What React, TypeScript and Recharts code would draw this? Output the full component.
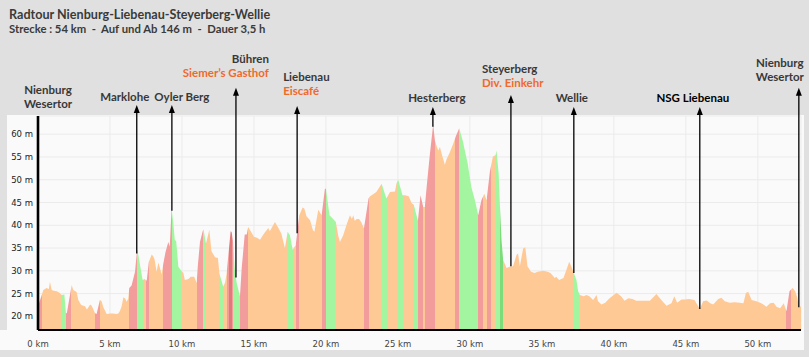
import React from "react";
import { AreaChart, Area, XAxis, YAxis, CartesianGrid, ReferenceLine } from "recharts";

// elevation profile, km along the route -> metres
const KM = [
  0, 0.26, 0.37, 0.6, 0.75, 0.83, 0.95, 1.1, 1.3, 1.5, 1.64, 1.83, 1.94, 2.0, 2.34, 2.45, 2.6, 2.69, 2.8, 3.0,
  3.26, 3.4, 3.5, 3.62, 3.73, 3.96, 4.07, 4.3, 4.42, 4.54, 4.77, 5.0, 5.23, 5.45, 5.58, 5.69, 5.81, 5.93, 6.05, 6.16,
  6.27, 6.34, 6.5, 6.74, 6.85, 6.9, 7.0, 7.1, 7.27, 7.4, 7.55, 7.7, 7.9, 8.0, 8.1, 8.24, 8.36, 8.47, 8.59, 8.7,
  8.85, 9.05, 9.15, 9.28, 9.4, 9.5, 9.6, 9.75, 9.98, 10.1, 10.2, 10.45, 10.6, 10.85, 11.02, 11.1, 11.25, 11.44, 11.5, 11.6,
  11.67, 11.9, 12.05, 12.3, 12.5, 12.6, 12.87, 13.0, 13.1, 13.38, 13.45, 13.55, 13.66, 13.8, 14.03, 14.15, 14.36, 14.5, 14.6, 14.8,
  15.0, 15.25, 15.42, 15.7, 16.0, 16.1, 16.46, 16.7, 16.9, 17.15, 17.34, 17.5, 17.69, 17.9, 18.15, 18.38, 18.5, 18.65, 18.9, 19.1,
  19.2, 19.47, 19.7, 19.93, 20.0, 20.25, 20.5, 20.69, 20.85, 20.97, 21.2, 21.45, 21.67, 21.8, 21.9, 22.0, 22.15, 22.3, 22.45, 22.64,
  22.96, 23.05, 23.5, 23.87, 24.2, 24.45, 24.8, 24.9, 25.02, 25.32, 25.5, 25.75, 25.95, 26.1, 26.39, 26.57, 26.76, 26.87, 27.0, 27.2,
  27.45, 27.57, 27.68, 27.8, 27.92, 28.03, 28.26, 28.38, 28.6, 28.84, 29.03, 29.26, 29.5, 29.85, 30.1, 30.35, 30.58, 30.8, 31.0, 31.16,
  31.39, 31.6, 31.78, 31.85, 32.0, 32.08, 32.2, 32.31, 32.55, 32.83, 33.0, 33.24, 33.35, 33.47, 33.7, 33.85, 34.0, 34.25, 34.5, 34.7,
  35.1, 35.4, 35.6, 35.9, 36.0, 36.2, 36.5, 36.7, 36.9, 37.05, 37.22, 37.4, 37.52, 37.64, 37.9, 38.1, 38.3, 38.56, 38.8, 38.9,
  39.14, 39.4, 39.7, 40.19, 40.5, 40.75, 41.0, 41.3, 41.55, 42.0, 42.5, 42.96, 43.3, 43.66, 44.0, 44.2, 44.4, 44.7, 44.95, 45.2,
  45.6, 45.97, 46.2, 46.45, 46.7, 46.9, 47.25, 47.48, 47.7, 48.05, 48.4, 48.75, 49.0, 49.17, 49.33, 49.57, 49.9, 50.25, 50.6, 50.85,
  51.1, 51.3, 51.55, 51.8, 51.99, 52.2, 52.41, 52.6, 52.75, 52.85, 53.0,
];
const ELEV = [
  22.2, 24.7, 25.8, 26.2, 26.0, 27.6, 25.8, 25.6, 25.5, 25.2, 24.7, 24.8, 20.8, 20.6, 26.9, 25.8, 25.5, 25.3, 23.6, 22.5,
  22.2, 21.5, 22.0, 22.6, 22.3, 20.7, 20.5, 23.6, 23.3, 22.0, 20.5, 20.6, 20.6, 20.5, 20.6, 21.2, 22.2, 24.2, 23.9, 23.2,
  23.9, 26.2, 26.8, 29.8, 33.6, 34.7, 33.0, 31.0, 28.0, 28.2, 27.8, 32.0, 33.6, 33.2, 32.5, 29.8, 31.8, 30.6, 29.2, 31.5,
  34.0, 36.3, 35.3, 43.7, 40.5, 36.8, 36.5, 30.9, 29.9, 29.5, 28.0, 28.2, 28.7, 28.7, 27.3, 31.0, 36.3, 38.7, 39.1, 37.2,
  36.0, 39.0, 34.3, 33.0, 32.8, 29.4, 26.5, 27.5, 29.4, 38.7, 38.5, 36.5, 30.6, 27.4, 24.4, 30.6, 38.0, 38.0, 39.6, 38.6,
  37.5, 37.2, 36.8, 38.2, 39.4, 38.7, 40.7, 39.4, 38.2, 35.0, 38.6, 37.8, 34.6, 35.6, 42.2, 43.9, 43.7, 42.0, 41.1, 38.9,
  38.6, 43.4, 42.2, 48.0, 48.0, 42.2, 41.4, 40.7, 37.8, 36.3, 37.8, 40.3, 42.2, 41.4, 42.2, 41.0, 41.4, 41.4, 40.7, 39.3,
  45.9, 46.3, 47.3, 49.1, 45.9, 47.3, 47.4, 49.2, 50.0, 46.6, 46.6, 46.4, 44.9, 44.5, 41.0, 46.6, 44.0, 44.0, 48.5, 55.0,
  62.2, 58.6, 57.5, 56.4, 57.2, 55.8, 53.3, 54.5, 56.0, 57.9, 59.6, 61.3, 58.6, 53.5, 48.4, 45.5, 42.2, 45.5, 46.9, 45.5,
  51.8, 55.1, 55.4, 56.4, 51.3, 44.8, 36.7, 32.4, 30.6, 31.0, 31.0, 33.5, 33.8, 31.0, 34.9, 35.2, 31.0, 29.8, 29.5, 29.8,
  30.0, 29.8, 29.5, 28.4, 28.7, 28.0, 28.4, 30.2, 32.0, 30.9, 29.5, 28.0, 25.5, 24.7, 24.4, 24.7, 24.4, 23.6, 24.7, 23.3,
  22.6, 23.0, 24.0, 25.2, 24.4, 23.4, 24.0, 23.8, 23.4, 23.4, 23.4, 24.9, 23.6, 22.3, 22.9, 24.4, 23.0, 23.7, 23.7, 23.8,
  23.6, 21.6, 23.3, 23.5, 22.9, 22.6, 23.8, 24.1, 23.3, 23.0, 23.1, 23.0, 22.9, 25.1, 25.4, 23.6, 23.3, 22.9, 22.1, 22.9,
  23.0, 22.1, 21.8, 22.9, 21.1, 25.5, 26.2, 25.5, 24.0, 22.0, 22.2,
];

// gradient sections: start km + kind, each runs up to the next start
const BAND_START = [
  0, 0.26, 1.6, 1.94, 2.27, 3.98, 4.3, 6.3, 6.9, 7.27, 7.5, 7.73, 8.7, 9.28, 9.95, 11.05, 11.48, 11.67, 12.59, 12.92,
  13.1, 13.3, 13.45, 13.52, 14.03, 14.56, 17.34, 17.69, 17.92, 18.15, 19.7, 19.98, 20.69, 22.64, 22.96, 23.91, 24.26, 24.95, 25.32, 26.06,
  26.39, 26.74, 26.87, 27.57, 28.96, 29.26, 30.58, 30.88, 31.16, 31.44, 31.81, 32.08, 32.31, 37.22, 37.64, 51.94, 52.3,
];
const BAND_KIND = [
  "up", "flat", "down", "up", "flat", "up", "flat", "up", "down", "flat", "up", "flat", "up", "down", "flat", "up", "down", "flat", "down", "flat",
  "up", "upDark", "up", "down", "up", "flat", "down", "flat", "up", "flat", "up", "down", "flat", "up", "flat", "down", "flat", "down", "flat", "down",
  "up", "flat", "up", "flat", "up", "down", "up", "flat", "up", "flat", "down", "downDark", "flat", "down", "flat", "up", "flat",
];
const KM_MAX = 53;

const X_TICKS = [0, 5, 10, 15, 20, 25, 30, 35, 40, 45, 50];
const Y_TICKS = [20, 25, 30, 35, 40, 45, 50, 55, 60];

// places along the route
const PLACE_KM = [0, 6.86, 9.3, 13.75, 18.0, 27.43, 32.85, 37.22, 45.97, 52.85];
const PLACE_TOP = [64, 66.4, 66.4, 70.2, 66.2, 66, 68.6, 66, 66, 70.2];
const PLACE_NAME = [
  ["Nienburg", "Wesertor"],
  ["Marklohe"],
  ["Oyler Berg"],
  ["Bühren", "Siemer’s Gasthof"],
  ["Liebenau", "Eiscafé"],
  ["Hesterberg"],
  ["Steyerberg", "Div. Einkehr"],
  ["Wellie"],
  ["NSG Liebenau"],
  ["Nienburg", "Wesertor"],
];

const COLORS: Record<string, string> = {
  flat: "#ffc996",
  up: "#f29c9c",
  down: "#a3f5a0",
  upDark: "#e07a7a",
  downDark: "#7ddc7a",
};
const DARK = "#383838";
const ORANGE = "#f0692a";
const FONT = "Lato, 'Open Sans', sans-serif";
const TICK_FONT = "'DejaVu Sans', sans-serif";

// label placement relative to the arrow
const LABEL = [
  { dx: 10, anchor: "middle", gap: 8, arrow: false, tone: [DARK, DARK] },
  { dx: -12, anchor: "middle", gap: 4, arrow: true, tone: [DARK] },
  { dx: 10, anchor: "middle", gap: 4, arrow: true, tone: [DARK] },
  { dx: 33, anchor: "end", gap: 11, arrow: true, tone: [DARK, ORANGE] },
  { dx: -14, anchor: "start", gap: 11, arrow: true, tone: [DARK, ORANGE] },
  { dx: 4, anchor: "middle", gap: 5, arrow: true, tone: [DARK] },
  { dx: -29, anchor: "start", gap: 8, arrow: true, tone: [DARK, ORANGE] },
  { dx: -2, anchor: "middle", gap: 5, arrow: true, tone: [DARK] },
  { dx: -7, anchor: "middle", gap: 5, arrow: true, tone: ["#000"] },
  { dx: -19, anchor: "middle", gap: 7, arrow: true, tone: [DARK, DARK] },
];

const data = KM.map((km, i) => ({ km, elev: ELEV[i] }));

function elevAt(km: number) {
  for (let i = 1; i < KM.length; i++) {
    if (KM[i] >= km) {
      const t = (km - KM[i - 1]) / (KM[i] - KM[i - 1]);
      return ELEV[i - 1] + t * (ELEV[i] - ELEV[i - 1]);
    }
  }
  return ELEV[ELEV.length - 1];
}

function bandStops() {
  const stops: any[] = [];
  BAND_START.forEach((start, i) => {
    const end = i + 1 < BAND_START.length ? BAND_START[i + 1] : KM_MAX;
    const c = COLORS[BAND_KIND[i]];
    stops.push(<stop key={`a${i}`} offset={start / KM_MAX} stopColor={c} />);
    stops.push(<stop key={`b${i}`} offset={end / KM_MAX} stopColor={c} />);
  });
  return stops;
}

const YTick = ({ x, y, payload }: any) => (
  <text x={x} y={y} dy={3} textAnchor="end" fontSize={8.5} fill="#222" fontFamily={TICK_FONT}>
    {`${payload.value} m`}
  </text>
);

const XTick = ({ x, y, payload }: any) => (
  <text x={x} y={y} dy={9} textAnchor="middle" fontSize={8.5} fill="#444" fontFamily={TICK_FONT}>
    {`${payload.value} km`}
  </text>
);

function placeShape(idx: number) {
  const lay = LABEL[idx];
  const lines = PLACE_NAME[idx];
  return (p: any) => {
    const x = p.x1;
    const yBottom = Math.max(p.y1, p.y2);
    const yTop = Math.min(p.y1, p.y2);
    const base = yTop - lay.gap;
    return (
      <g>
        {lay.arrow && (
          <>
            <line x1={x} x2={x} y1={yBottom} y2={yTop + 4} stroke="#000" strokeWidth={1.3} />
            <polygon points={`${x},${yTop} ${x - 3},${yTop + 8} ${x + 3},${yTop + 8}`} fill="#000" />
          </>
        )}
        {lines.map((t, j) => (
          <text
            key={j}
            x={x + lay.dx}
            y={base - (lines.length - 1 - j) * 14}
            textAnchor={lay.anchor as any}
            fontFamily={FONT}
            fontWeight={700}
            fontSize={11.5}
            fill={lay.tone[j]}
          >
            {t}
          </text>
        ))}
      </g>
    );
  };
}

export default function App() {
  return (
    <div style={{ position: "absolute", left: 0, top: 0, width: 809, height: 357, background: "#e0e0e0", overflow: "hidden" }}>
      <div style={{ position: "absolute", left: 7, top: 115, width: 797, height: 235, background: "#fafafa" }} />
      <div style={{ position: "absolute", left: 0, top: 330, width: 10, height: 20, background: "#fafafa" }} />
      <svg width={809} height={60} style={{ position: "absolute", left: 0, top: 0 }}>
        <text x={9} y={19} fontFamily={FONT} fontWeight={700} fontSize={12.6} fill="#3a3a3a">
          Radtour Nienburg-Liebenau-Steyerberg-Wellie
        </text>
        <text x={9} y={33} fontFamily={FONT} fontWeight={700} fontSize={11.3} fill="#3a3a3a" xmlSpace="preserve">
          {"Strecke : 54 km  -  Auf und Ab 146 m  -  Dauer 3,5 h"}
        </text>
      </svg>
      <div style={{ position: "absolute", left: 0, top: 0 }}>
        <AreaChart width={809} height={357} data={data} margin={{ top: 116, right: 8, bottom: 7, left: 8 }}>
          <defs>
            <linearGradient id="slopeFill" x1="0" y1="0" x2="1" y2="0">
              {bandStops()}
            </linearGradient>
          </defs>
          <CartesianGrid stroke="#ebebeb" strokeWidth={1} />
          <XAxis
            dataKey="km"
            type="number"
            domain={[0, KM_MAX]}
            ticks={X_TICKS}
            tick={<XTick />}
            tickLine={false}
            tickSize={6}
            axisLine={{ stroke: "#000", strokeWidth: 2 }}
            height={20}
            interval={0}
          />
          <YAxis
            type="number"
            domain={[17, 64]}
            ticks={Y_TICKS}
            allowDataOverflow
            tick={<YTick />}
            tickLine={false}
            tickSize={3}
            axisLine={{ stroke: "#000", strokeWidth: 2.6 }}
            width={30}
            interval={0}
          />
          <Area
            type="linear"
            dataKey="elev"
            stroke="none"
            fill="url(#slopeFill)"
            fillOpacity={1}
            isAnimationActive={false}
          />
          {PLACE_KM.map((km, i) => (
            <ReferenceLine
              key={i}
              ifOverflow="visible"
              segment={[
                { x: km, y: i === 0 ? 17 : elevAt(km) },
                { x: km, y: PLACE_TOP[i] },
              ]}
              shape={placeShape(i)}
            />
          ))}
        </AreaChart>
      </div>
    </div>
  );
}
